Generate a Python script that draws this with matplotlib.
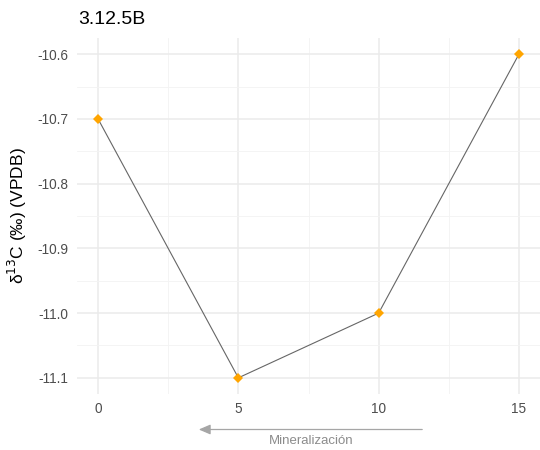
import matplotlib
matplotlib.use("Agg")
import matplotlib.pyplot as plt
from matplotlib.ticker import FixedLocator, FormatStrFormatter

plt.rcParams['font.family'] = ['Liberation Sans', 'DejaVu Sans']
plt.rcParams['axes.unicode_minus'] = False

# sample depth (x) and carbon isotope values
depth = [0, 5, 10, 15]
d13c = [-10.7, -11.1, -11.0, -10.6]
x_ticks = [0, 5, 10, 15]
y_ticks = [-11.1, -11.0, -10.9, -10.8, -10.7, -10.6]

fig = plt.figure(figsize=(5.4, 4.5), dpi=100)
ax = fig.add_axes([0.1426, 0.1244, 0.8574, 0.7912])

ax.plot(depth, d13c, color='#666666', lw=0.8, zorder=3)
ax.plot(depth, d13c, ls='none', marker='D', ms=5.5, color='#FFA500',
        markeredgewidth=0, zorder=4)

ax.set_xlim(-0.75, 15.75)
ax.set_ylim(-11.125, -10.575)
ax.xaxis.set_major_locator(FixedLocator(x_ticks))
ax.xaxis.set_minor_locator(FixedLocator([2.5, 7.5, 12.5]))
ax.yaxis.set_major_locator(FixedLocator(y_ticks))
ax.yaxis.set_minor_locator(FixedLocator([-11.05, -10.95, -10.85, -10.75, -10.65]))
ax.yaxis.set_major_formatter(FormatStrFormatter('%.1f'))

ax.grid(which='major', color='#EBEBEB', lw=1.1)
ax.grid(which='minor', color='#F3F3F3', lw=0.6)
ax.set_axisbelow(True)
for s in ax.spines.values():
    s.set_visible(False)
ax.tick_params(which='both', length=0, labelsize=9.8, labelcolor='#4D4D4D', pad=6)

ax.set_ylabel('δ$^{13}$C (‰) (VPDB)', fontsize=12.5, color='black', labelpad=6)
fig.text(78 / 540, 1 - 20 / 450, '3.12.5B', fontsize=14, ha='left', va='center')

# direction arrow below the x axis
fig.add_artist(matplotlib.patches.FancyArrowPatch(
    (425 / 540, 1 - 429.5 / 450), (196 / 540, 1 - 429.5 / 450),
    transform=fig.transFigure, arrowstyle='-|>,head_length=7,head_width=3',
    color='#A6A6A6', lw=0.9, mutation_scale=1))
fig.text(311 / 540, 1 - 441 / 450, 'Mineralización', fontsize=9.5,
         color='#8C8C8C', ha='center', va='center')

fig.savefig('out.png', dpi=100)
